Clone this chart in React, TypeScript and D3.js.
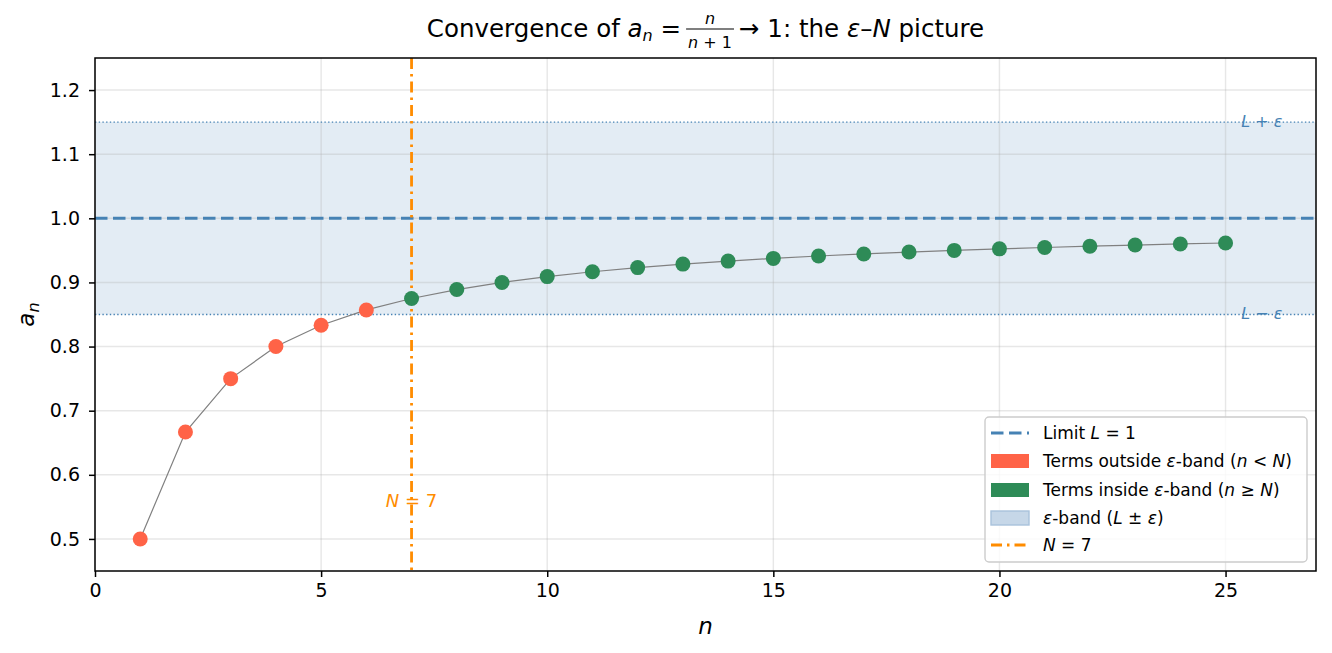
import React, { useEffect, useRef } from "react";
import * as d3 from "d3";

// sequence a_n = n / (n + 1), n = 1..25
const nValues = [1, 2, 3, 4, 5, 6, 7, 8, 9, 10, 11, 12, 13, 14, 15, 16, 17, 18, 19, 20, 21, 22, 23, 24, 25];
const aValues = [
  0.5, 0.6667, 0.75, 0.8, 0.8333, 0.8571, 0.875, 0.8889, 0.9, 0.9091, 0.9167, 0.9231, 0.9286,
  0.9333, 0.9375, 0.9412, 0.9444, 0.9474, 0.95, 0.9524, 0.9545, 0.9565, 0.9583, 0.96, 0.9615,
];
const limitL = 1;
const epsilon = 0.15;
const bigN = 7;
const xTicks = [0, 5, 10, 15, 20, 25];
const yTicks = [0.5, 0.6, 0.7, 0.8, 0.9, 1.0, 1.1, 1.2];

const FONT = "DejaVu Sans, sans-serif";
const STEEL = "#4682b4";
const TOMATO = "#ff6347";
const SEAGREEN = "#2e8b57";
const ORANGE = "#ff8c00";

export default function App() {
  const svgRef = useRef<SVGSVGElement | null>(null);

  useEffect(() => {
    const width = 1332;
    const height = 653;
    const m = { left: 95, right: 16, top: 58, bottom: 82 };

    const svg = d3.select(svgRef.current);
    svg.selectAll("*").remove();
    svg.attr("font-family", FONT);

    const x = d3.scaleLinear().domain([0, 27]).range([m.left, width - m.right]);
    const y = d3.scaleLinear().domain([0.45, 1.25]).range([height - m.bottom, m.top]);
    const [x0, x1] = x.range();
    const [y0, y1] = y.range();

    svg.append("rect").attr("width", width).attr("height", height).attr("fill", "#fff");

    // epsilon band
    svg
      .append("rect")
      .attr("x", x0)
      .attr("width", x1 - x0)
      .attr("y", y(limitL + epsilon))
      .attr("height", y(limitL - epsilon) - y(limitL + epsilon))
      .attr("fill", STEEL)
      .attr("fill-opacity", 0.15);

    // grid
    const grid = svg.append("g").attr("stroke", "#b0b0b0").attr("stroke-opacity", 0.3).attr("stroke-width", 1.4);
    grid
      .selectAll("line.gx")
      .data(xTicks)
      .join("line")
      .attr("x1", (d) => x(d))
      .attr("x2", (d) => x(d))
      .attr("y1", y1)
      .attr("y2", y0);
    grid
      .selectAll("line.gy")
      .data(yTicks)
      .join("line")
      .attr("class", "gy")
      .attr("x1", x0)
      .attr("x2", x1)
      .attr("y1", (d) => y(d))
      .attr("y2", (d) => y(d));

    // band edges
    [limitL + epsilon, limitL - epsilon].forEach((v) => {
      svg
        .append("line")
        .attr("x1", x0)
        .attr("x2", x1)
        .attr("y1", y(v))
        .attr("y2", y(v))
        .attr("stroke", STEEL)
        .attr("stroke-width", 1.4)
        .attr("stroke-dasharray", "1.4,2.3");
    });

    // limit line
    svg
      .append("line")
      .attr("x1", x0)
      .attr("x2", x1)
      .attr("y1", y(limitL))
      .attr("y2", y(limitL))
      .attr("stroke", STEEL)
      .attr("stroke-width", 3)
      .attr("stroke-dasharray", "12.5,5.5");

    // N marker line
    svg
      .append("line")
      .attr("x1", x(bigN))
      .attr("x2", x(bigN))
      .attr("y1", y1)
      .attr("y2", y0)
      .attr("stroke", ORANGE)
      .attr("stroke-width", 2.8)
      .attr("stroke-dasharray", "11,5,2.5,5");

    // band labels
    const bandLabel = (v: number, sign: string) => {
      const t = svg
        .append("text")
        .attr("x", x(25.8))
        .attr("y", y(v))
        .attr("dy", "0.3em")
        .attr("text-anchor", "middle")
        .attr("fill", STEEL)
        .attr("font-size", 16);
      t.append("tspan").attr("font-style", "italic").text("L");
      t.append("tspan").text(` ${sign} `);
      t.append("tspan").attr("font-style", "italic").text("ε");
    };
    bandLabel(limitL + epsilon, "+");
    bandLabel(limitL - epsilon, "−");

    // N label
    const nl = svg
      .append("text")
      .attr("x", x(bigN))
      .attr("y", y(0.56))
      .attr("dy", "0.35em")
      .attr("text-anchor", "middle")
      .attr("fill", ORANGE)
      .attr("font-size", 18);
    nl.append("tspan").attr("font-style", "italic").text("N");
    nl.append("tspan").text(" = 7");

    // connecting line
    const line = d3
      .line<number>()
      .x((_, i) => x(nValues[i]))
      .y((d) => y(d));
    svg
      .append("path")
      .attr("d", line(aValues))
      .attr("fill", "none")
      .attr("stroke", "#808080")
      .attr("stroke-width", 1.2);

    // terms
    svg
      .append("g")
      .selectAll("circle")
      .data(aValues)
      .join("circle")
      .attr("cx", (_, i) => x(nValues[i]))
      .attr("cy", (d) => y(d))
      .attr("r", 7.5)
      .attr("fill", (_, i) => (nValues[i] < bigN ? TOMATO : SEAGREEN));

    // axes
    const gx = svg
      .append("g")
      .attr("transform", `translate(0,${y0})`)
      .call(d3.axisBottom(x).tickValues(xTicks).tickSize(6).tickPadding(7).tickFormat(d3.format("d")));
    const gy = svg
      .append("g")
      .attr("transform", `translate(${x0},0)`)
      .call(d3.axisLeft(y).tickValues(yTicks).tickSize(6).tickPadding(9).tickFormat(d3.format(".1f")));
    [gx, gy].forEach((g) => {
      g.select(".domain").remove();
      g.selectAll("line").attr("stroke", "#000").attr("stroke-width", 1.5);
      g.selectAll("text").attr("font-size", 19).attr("font-family", FONT).attr("fill", "#000");
    });

    svg
      .append("rect")
      .attr("x", x0)
      .attr("y", y1)
      .attr("width", x1 - x0)
      .attr("height", y0 - y1)
      .attr("fill", "none")
      .attr("stroke", "#000")
      .attr("stroke-width", 1.5);

    // axis labels
    svg
      .append("text")
      .attr("x", (x0 + x1) / 2)
      .attr("y", 634)
      .attr("text-anchor", "middle")
      .attr("font-size", 23)
      .attr("font-style", "italic")
      .text("n");
    const yl = svg
      .append("text")
      .attr("transform", `translate(34,${(y0 + y1) / 2}) rotate(-90)`)
      .attr("text-anchor", "middle")
      .attr("font-size", 23);
    yl.append("tspan").attr("font-style", "italic").text("a");
    yl.append("tspan").attr("font-style", "italic").attr("font-size", 16).attr("dy", 5).text("n");

    // title with inline fraction
    const title = svg.append("g");
    const tBase = 37;
    const t1 = title.append("text").attr("y", tBase).attr("font-size", 24.5);
    t1.append("tspan").text("Convergence of ");
    t1.append("tspan").attr("font-style", "italic").text("a");
    t1.append("tspan").attr("font-style", "italic").attr("font-size", 16).attr("dy", 4).text("n");
    t1.append("tspan").attr("dy", -4).text(" = ");
    let cursor = (t1.node() as SVGTextElement).getComputedTextLength() + 5;

    const den = title.append("text").attr("y", tBase + 11).attr("font-size", 16).attr("text-anchor", "middle");
    den.append("tspan").attr("font-style", "italic").text("n");
    den.append("tspan").text(" + 1");
    const denW = (den.node() as SVGTextElement).getComputedTextLength();
    const fracW = denW + 4;
    const fracC = cursor + fracW / 2;
    den.attr("x", fracC);
    title
      .append("text")
      .attr("x", fracC)
      .attr("y", tBase - 13)
      .attr("font-size", 16)
      .attr("font-style", "italic")
      .attr("text-anchor", "middle")
      .text("n");
    title
      .append("line")
      .attr("x1", cursor)
      .attr("x2", cursor + fracW)
      .attr("y1", tBase - 8)
      .attr("y2", tBase - 8)
      .attr("stroke", "#000")
      .attr("stroke-width", 1.1);
    cursor += fracW + 5;

    const t2 = title.append("text").attr("x", cursor).attr("y", tBase).attr("font-size", 24.5);
    t2.append("tspan").text("→ 1: the ");
    t2.append("tspan").attr("font-style", "italic").text("ε");
    t2.append("tspan").text("–");
    t2.append("tspan").attr("font-style", "italic").text("N");
    t2.append("tspan").text(" picture");
    cursor += (t2.node() as SVGTextElement).getComputedTextLength();
    title.attr("transform", `translate(${(x0 + x1) / 2 - cursor / 2},0)`);

    // legend
    const lg = svg.append("g").attr("transform", "translate(985,417)");
    lg.append("rect")
      .attr("width", 322)
      .attr("height", 145)
      .attr("rx", 4)
      .attr("fill", "#fff")
      .attr("fill-opacity", 0.8)
      .attr("stroke", "#cccccc")
      .attr("stroke-width", 1.4);
    const rows = [16, 44, 73, 101, 128];
    const hx = 6;
    const hw = 38;
    const tx = 58;
    const lfs = 17;

    lg.append("line")
      .attr("x1", hx)
      .attr("x2", hx + hw)
      .attr("y1", rows[0])
      .attr("y2", rows[0])
      .attr("stroke", STEEL)
      .attr("stroke-width", 3)
      .attr("stroke-dasharray", "12.5,5.5");
    lg.append("rect").attr("x", hx).attr("y", rows[1] - 7).attr("width", hw).attr("height", 14).attr("fill", TOMATO);
    lg.append("rect").attr("x", hx).attr("y", rows[2] - 7).attr("width", hw).attr("height", 14).attr("fill", SEAGREEN);
    lg.append("rect")
      .attr("x", hx)
      .attr("y", rows[3] - 7)
      .attr("width", hw)
      .attr("height", 14)
      .attr("fill", "#c6d7e8")
      .attr("stroke", "#a9c2dc")
      .attr("stroke-width", 1.4);
    lg.append("line")
      .attr("x1", hx)
      .attr("x2", hx + hw)
      .attr("y1", rows[4])
      .attr("y2", rows[4])
      .attr("stroke", ORANGE)
      .attr("stroke-width", 2.8)
      .attr("stroke-dasharray", "11,5,2.5,5");

    const legendText = (row: number, parts: [string, boolean][]) => {
      const t = lg
        .append("text")
        .attr("x", tx)
        .attr("y", rows[row])
        .attr("dy", "0.35em")
        .attr("font-size", lfs);
      parts.forEach(([s, it]) => t.append("tspan").attr("font-style", it ? "italic" : "normal").text(s));
    };
    legendText(0, [["Limit ", false], ["L", true], [" = 1", false]]);
    legendText(1, [["Terms outside ", false], ["ε", true], ["-band (", false], ["n", true], ["  <  ", false], ["N", true], [")", false]]);
    legendText(2, [["Terms inside ", false], ["ε", true], ["-band (", false], ["n", true], ["  ≥  ", false], ["N", true], [")", false]]);
    legendText(3, [["ε", true], ["-band (", false], ["L", true], [" ± ", false], ["ε", true], [")", false]]);
    legendText(4, [["N", true], [" = 7", false]]);
  }, []);

  return (
    <svg
      ref={svgRef}
      width={1332}
      height={653}
      style={{ position: "absolute", left: 0, top: 0, display: "block" }}
    />
  );
}
